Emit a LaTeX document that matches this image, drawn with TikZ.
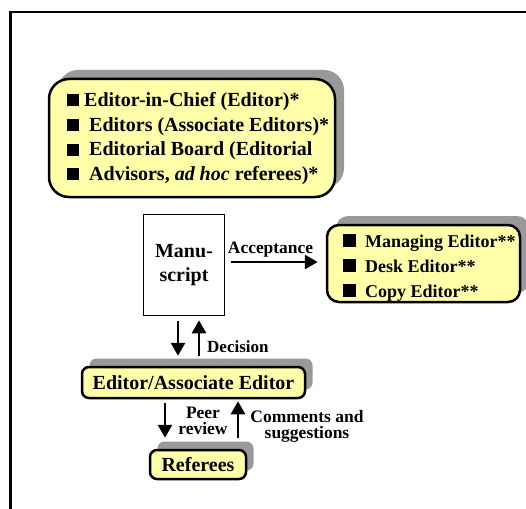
\documentclass[tikz,border=0pt]{standalone}
\usepackage{fontspec}
\setmainfont{Liberation Serif}
\usetikzlibrary{arrows.meta}

\definecolor{boxyellow}{RGB}{255,255,170}
\definecolor{shadowgray}{RGB}{153,153,153}

% square bullet sitting on the baseline
\newcommand{\sqbullet}[1]{\rule{#1}{#1}}

\begin{document}
\begin{tikzpicture}[x=1pt,y=-1pt,
  font=\bfseries,
  roleBox/.style={draw=black, line width=2.5pt, fill=boxyellow,
    rounded corners=#1, inner sep=0pt,
    preaction={fill=shadowgray, rounded corners=#1,
      transform canvas={shift={(9pt,9pt)}}}},
  roleBox/.default=7pt,
  smallBox/.style={draw=black, line width=2.5pt, fill=boxyellow,
    rounded corners=7pt, inner sep=0pt,
    preaction={fill=shadowgray, rounded corners=7pt,
      transform canvas={shift={(7.5pt,8.5pt)}}}},
  paperBox/.style={draw=black, line width=1.6pt, fill=white, inner sep=0pt},
  flow/.style={line width=2.8pt, -{Triangle[length=13pt,width=14pt]}},
  lbl/.style={inner sep=0pt, align=center},
]
\useasboundingbox (0,0) rectangle (526,508);
\clip (0,0) rectangle (526,508);

% outer frame
\draw[line width=2.5pt] (10.5,520) -- (10.5,12) -- (540,12);

% editorial board
\node[roleBox=20pt, minimum width=286, minimum height=118] (board) at (192,138) {};
\node[anchor=west, inner sep=0pt, align=left,
      font=\bfseries\fontsize{20}{24.7}\selectfont] (boardtxt) at (67,138.5)
  {\sqbullet{12pt}\hspace{5pt}Editor-in-Chief (Editor)*\\
   \sqbullet{12pt}\hspace{10pt}Editors (Associate Editors)*\\
   \sqbullet{12pt}\hspace{10pt}Editorial Board (Editorial\\
   \sqbullet{12pt}\hspace{10pt}Advisors, \textit{ad hoc} referees)*};

% manuscript
\node[paperBox, minimum width=81, minimum height=101, align=center,
      font=\bfseries\fontsize{20}{24}\selectfont] (ms) at (184,265) {Manu-\\script};

% production staff
\node[roleBox=12pt, minimum width=193, minimum height=77] (staff) at (423.5,263.5) {};
\node[anchor=west, inner sep=0pt, align=left,
      font=\bfseries\fontsize{18}{25}\selectfont] (stafftxt) at (343,267.5)
  {\sqbullet{13pt}\hspace{9pt}Managing Editor**\\
   \sqbullet{13pt}\hspace{9pt}Desk Editor**\\
   \sqbullet{13pt}\hspace{9pt}Copy Editor**};

% handling editor
\node[smallBox, minimum width=223, minimum height=31,
      font=\bfseries\fontsize{20}{24}\selectfont] (ed) at (193.5,382.5) {Editor/Associate Editor};

% referees
\node[smallBox, minimum width=96, minimum height=29,
      font=\bfseries\fontsize{20}{24}\selectfont] (ref) at (198,464.5) {Referees};

% acceptance
\draw[flow] ([xshift=6pt,yshift=3pt]ms.east) -- ([xshift=-8pt,yshift=1.5pt]staff.west);
\node[lbl, anchor=base, font=\bfseries\fontsize{17.4}{20}\selectfont] (acc) at (270.5,253) {Acceptance};

% manuscript <-> editor
\draw[flow, shorten <=5pt, shorten >=10pt] ([xshift=-6pt]ms.south) -- ([xshift=-6pt]ms.south |- ed.north);
\draw[flow, shorten <=10pt, shorten >=4pt] ([xshift=15pt]ms.south |- ed.north) -- ([xshift=15pt]ms.south);
\node[lbl, anchor=base west, font=\bfseries\fontsize{17}{20}\selectfont] (dec) at (207,352) {Decision};

% editor <-> referees
\draw[flow, shorten <=4pt, shorten >=11pt] ([xshift=-28.5pt]ed.south) -- ([xshift=-28.5pt]ed.south |- ref.north);
\draw[flow, shorten <=11pt, shorten >=2pt] ([xshift=40pt]ref.north) -- ([xshift=40pt]ref.north |- ed.south);
\node[lbl, font=\bfseries\fontsize{17.5}{16}\selectfont] (peer) at (203,421) {Peer\\review};
\node[lbl, font=\bfseries\fontsize{17.5}{16}\selectfont] (cmt) at (307,426) {Comments and\\suggestions};
\end{tikzpicture}
\end{document}
